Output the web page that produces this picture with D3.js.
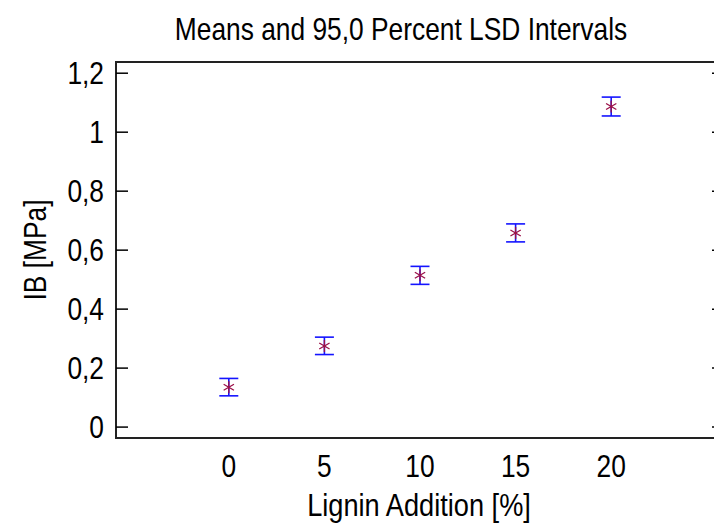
<!DOCTYPE html>
<html>
<head>
<meta charset="utf-8">
<script src="https://cdn.jsdelivr.net/npm/d3@7"></script>
<style>
  body { margin: 0; background: #fff; }
  text { font-family: "Liberation Sans", Arial, sans-serif; fill: #000; font-size: 31px; }
</style>
</head>
<body>
<div id="chart"></div>
<script>
// data
const levels = [0, 5, 10, 15, 20];
const means = [0.135, 0.275, 0.515, 0.658, 1.087];
const lower = [0.106, 0.246, 0.484, 0.628, 1.055];
const upper = [0.165, 0.305, 0.545, 0.689, 1.119];
const yTicks = [0, 0.2, 0.4, 0.6, 0.8, 1, 1.2];

const width = 714, height = 523;
const margin = {left: 116, right: -10, top: 62, bottom: 85};
const narrow = 0.85; // the original uses a condensed face

const svg = d3.select("#chart").append("svg")
    .attr("width", width)
    .attr("height", height);

const x = d3.scaleLinear()
    .domain([-5.9, 25.9])
    .range([margin.left, width - margin.right]);

const y = d3.scaleLinear()
    .domain([-0.037, 1.238])
    .range([height - margin.bottom, margin.top]);

const fmt = d => String(d).replace(".", ",");
const place = (px, py) => `translate(${px},${py}) scale(${narrow},1)`;

// frame
svg.append("rect")
    .attr("x", x.range()[0])
    .attr("y", y.range()[1])
    .attr("width", x.range()[1] - x.range()[0])
    .attr("height", y.range()[0] - y.range()[1])
    .attr("fill", "none")
    .attr("stroke", "#222")
    .attr("stroke-width", 2);

// y ticks, inward on both sides
const tickLen = 12;
svg.append("g").selectAll("line")
    .data(yTicks)
    .join("line")
    .attr("x1", x.range()[0])
    .attr("x2", x.range()[0] + tickLen)
    .attr("y1", d => y(d))
    .attr("y2", d => y(d))
    .attr("stroke", "#000")
    .attr("stroke-width", 1.5);

svg.append("g").selectAll("line")
    .data(yTicks)
    .join("line")
    .attr("x1", x.range()[1])
    .attr("x2", x.range()[1] - tickLen)
    .attr("y1", d => y(d))
    .attr("y2", d => y(d))
    .attr("stroke", "#000")
    .attr("stroke-width", 1.5);

svg.append("g").selectAll("text")
    .data(yTicks)
    .join("text")
    .attr("transform", d => place(x.range()[0] - 12, y(d)))
    .attr("dy", "0.35em")
    .attr("text-anchor", "end")
    .text(fmt);

// x tick labels
svg.append("g").selectAll("text")
    .data(levels)
    .join("text")
    .attr("transform", d => place(x(d), 477))
    .attr("text-anchor", "middle")
    .text(d => d);

// titles
svg.append("text")
    .attr("transform", place(401, 40))
    .attr("text-anchor", "middle")
    .text("Means and 95,0 Percent LSD Intervals");

svg.append("text")
    .attr("transform", place(419, 516))
    .attr("text-anchor", "middle")
    .style("font-size", "32px")
    .text("Lignin Addition [%]");

svg.append("text")
    .attr("transform", `translate(46,250) rotate(-90) scale(${narrow},1)`)
    .attr("text-anchor", "middle")
    .text("IB [MPa]");

// error bars
const capW = 9.5;
const bars = svg.append("g")
    .attr("stroke", "#1414ff")
    .attr("stroke-width", 1.6);

bars.selectAll("line.v")
    .data(levels)
    .join("line")
    .attr("class", "v")
    .attr("x1", d => x(d))
    .attr("x2", d => x(d))
    .attr("y1", (d, i) => y(lower[i]))
    .attr("y2", (d, i) => y(upper[i]));

bars.selectAll("line.t")
    .data(levels)
    .join("line")
    .attr("class", "t")
    .attr("x1", d => x(d) - capW)
    .attr("x2", d => x(d) + capW)
    .attr("y1", (d, i) => y(upper[i]))
    .attr("y2", (d, i) => y(upper[i]));

bars.selectAll("line.b")
    .data(levels)
    .join("line")
    .attr("class", "b")
    .attr("x1", d => x(d) - capW)
    .attr("x2", d => x(d) + capW)
    .attr("y1", (d, i) => y(lower[i]))
    .attr("y2", (d, i) => y(lower[i]));

// asterisk markers
const star = d3.symbol().type(d3.symbolAsterisk).size(100);
svg.append("g").selectAll("path")
    .data(levels)
    .join("path")
    .attr("transform", (d, i) => `translate(${x(d)},${y(means[i])})`)
    .attr("d", star)
    .attr("fill", "none")
    .attr("stroke", "#9b1048")
    .attr("stroke-width", 1.3);
</script>
</body>
</html>
